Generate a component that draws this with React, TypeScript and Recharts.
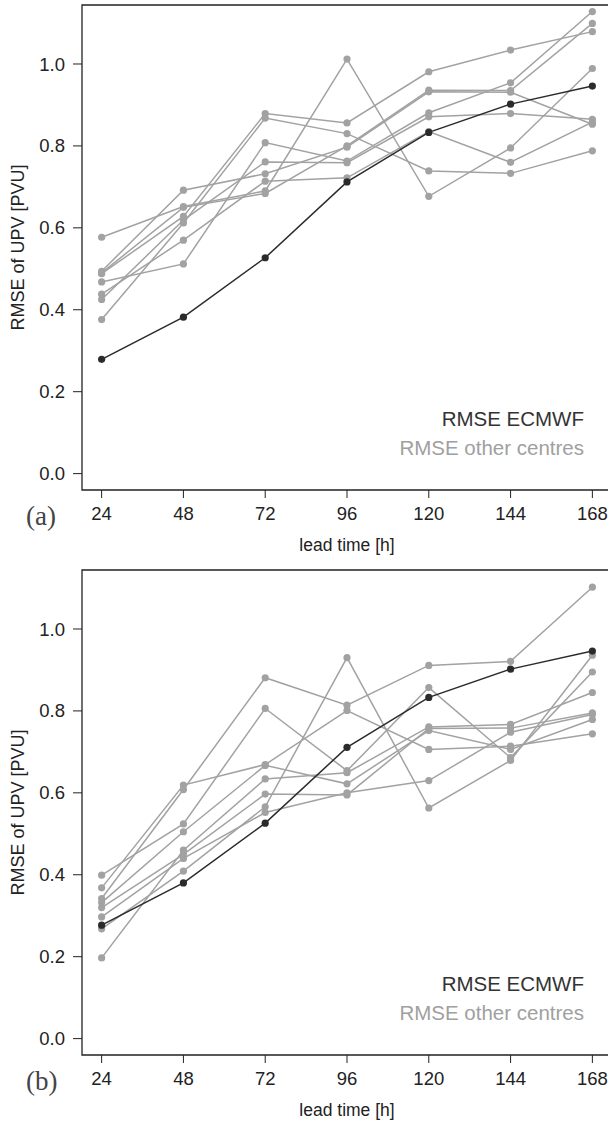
import { LineChart, Line, XAxis, YAxis, ReferenceArea } from 'recharts';

// lead times (h)
const leadTimes = [24, 48, 72, 96, 120, 144, 168];
const yTicks = [0, 0.2, 0.4, 0.6, 0.8, 1.0];

// R-style axis extension (4%)
const X_MIN = 18.24;
const X_MAX = 173.76;
const Y_MIN = -0.04;
const Y_MAX = 1.144;

// panel (a)
const ecmwfA = [0.279, 0.382, 0.527, 0.712, 0.833, 0.902, 0.946];
const othersA = [
  [0.577, 0.652, 0.69, 1.012, 0.677, 0.795, 0.989],
  [0.494, 0.692, 0.732, 0.797, 0.932, 0.931, 0.853],
  [0.488, 0.628, 0.879, 0.856, 0.981, 1.034, 1.079],
  [0.468, 0.512, 0.808, 0.763, 0.881, 0.954, 1.128],
  [0.438, 0.57, 0.714, 0.722, 0.835, 0.76, 0.858],
  [0.425, 0.619, 0.761, 0.759, 0.871, 0.879, 0.865],
  [0.376, 0.612, 0.868, 0.83, 0.739, 0.733, 0.788],
  [0.49, 0.65, 0.684, 0.8, 0.936, 0.935, 1.099],
];

// panel (b)
const ecmwfB = [0.277, 0.38, 0.526, 0.711, 0.833, 0.902, 0.946];
const othersB = [
  [0.368, 0.619, 0.669, 0.801, 0.706, 0.714, 0.744],
  [0.342, 0.608, 0.881, 0.814, 0.911, 0.921, 1.102],
  [0.399, 0.524, 0.806, 0.654, 0.857, 0.686, 0.895],
  [0.332, 0.505, 0.667, 0.622, 0.752, 0.706, 0.779],
  [0.197, 0.46, 0.634, 0.649, 0.761, 0.767, 0.845],
  [0.32, 0.45, 0.597, 0.595, 0.757, 0.758, 0.795],
  [0.297, 0.44, 0.552, 0.6, 0.63, 0.748, 0.791],
  [0.268, 0.409, 0.566, 0.93, 0.563, 0.679, 0.936],
];

const GREY = '#a2a2a2';
const DARK = '#2b2b2b';
const FONT = '"Liberation Sans", Arial, sans-serif';

function buildRows(ecmwf: number[], others: number[][]) {
  return leadTimes.map((h, i) => {
    const row: Record<string, number> = { h, ecmwf: ecmwf[i] };
    others.forEach((s, k) => {
      row['c' + k] = s[i];
    });
    return row;
  });
}

function Panel({ tag, ecmwf, others, top }: { tag: string; ecmwf: number[]; others: number[][]; top: number }) {
  const rows = buildRows(ecmwf, others);
  return (
    <div style={{ position: 'absolute', left: 0, top, width: 620, height: 560 }}>
      <LineChart width={620} height={560} data={rows} margin={{ top: 5, right: 8, bottom: 0, left: 0 }}>
        <ReferenceArea
          x1={X_MIN}
          x2={X_MAX}
          y1={Y_MIN}
          y2={Y_MAX}
          fill="none"
          stroke="#222"
          strokeWidth={1.3}
          ifOverflow="visible"
        />
        <XAxis
          dataKey="h"
          type="number"
          domain={[X_MIN, X_MAX]}
          ticks={leadTimes}
          allowDataOverflow
          axisLine={false}
          tickLine={{ stroke: '#222' }}
          tickSize={8}
          tickMargin={9}
          height={70}
          tick={{ fill: '#222', fontSize: 18.5, fontFamily: FONT }}
          label={{ value: 'lead time [h]', position: 'insideBottom', offset: 9, fill: '#222', fontSize: 17.5, fontFamily: FONT }}
        />
        <YAxis
          type="number"
          domain={[Y_MIN, Y_MAX]}
          ticks={yTicks}
          allowDataOverflow
          axisLine={false}
          tickLine={{ stroke: '#222' }}
          tickSize={9}
          tickMargin={8}
          width={82}
          tickFormatter={(v: number) => v.toFixed(1)}
          tick={{ fill: '#222', fontSize: 18.5, fontFamily: FONT }}
          label={{
            value: 'RMSE of UPV [PVU]',
            angle: -90,
            position: 'insideLeft',
            offset: 18,
            fill: '#222',
            fontSize: 18,
            fontFamily: FONT,
            style: { textAnchor: 'middle' },
          }}
        />
        {others.map((_, k) => (
          <Line
            key={k}
            type="linear"
            dataKey={'c' + k}
            stroke={GREY}
            strokeWidth={1.5}
            dot={{ r: 3.6, fill: GREY, stroke: 'none' }}
            activeDot={false}
            isAnimationActive={false}
          />
        ))}
        <Line
          type="linear"
          dataKey="ecmwf"
          stroke={DARK}
          strokeWidth={1.5}
          dot={{ r: 3.6, fill: DARK, stroke: 'none' }}
          activeDot={false}
          isAnimationActive={false}
        />
      </LineChart>
      <div
        style={{
          position: 'absolute',
          left: 26,
          top: 501,
          fontFamily: '"Liberation Serif", serif',
          fontSize: 27,
          lineHeight: '30px',
          color: '#444',
        }}
      >
        {tag}
      </div>
      <div
        style={{
          position: 'absolute',
          right: 620 - 584,
          top: 404,
          textAlign: 'right',
          fontFamily: FONT,
          fontSize: 20.5,
          lineHeight: '29px',
          whiteSpace: 'nowrap',
        }}
      >
        <div style={{ color: '#333' }}>RMSE ECMWF</div>
        <div style={{ color: '#a0a0a0' }}>RMSE other centres</div>
      </div>
    </div>
  );
}

export default function App() {
  return (
    <div
      style={{
        position: 'absolute',
        left: 0,
        top: 0,
        width: 608,
        height: 1121,
        overflow: 'hidden',
        background: '#fff',
      }}
    >
      <Panel tag="(a)" ecmwf={ecmwfA} others={othersA} top={0} />
      <Panel tag="(b)" ecmwf={ecmwfB} others={othersB} top={565} />
    </div>
  );
}
